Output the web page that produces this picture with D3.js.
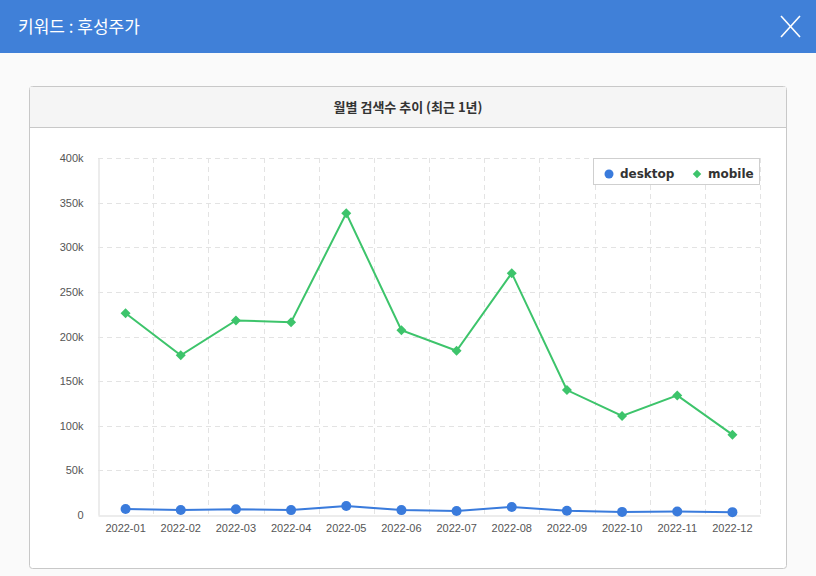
<!DOCTYPE html>
<html><head><meta charset="utf-8">
<script src="https://cdn.jsdelivr.net/npm/d3@7"></script>
<style>
body{margin:0;background:#fafafa;font-family:"Noto Sans CJK KR","Noto Sans",sans-serif;}
</style></head><body>
<svg id="c" width="816" height="576"></svg>
<script>
const months = ["2022-01","2022-02","2022-03","2022-04","2022-05","2022-06","2022-07","2022-08","2022-09","2022-10","2022-11","2022-12"];
const desktop = [6700,5600,6500,5500,10000,5500,4500,9000,4800,3500,4000,3200];
const mobile = [226000,179000,218000,216000,338000,207000,184000,271000,140000,111000,134000,90000];
const yTicks = [0,50000,100000,150000,200000,250000,300000,350000,400000];
const yTickLabels = ["0","50k","100k","150k","200k","250k","300k","350k","400k"];
const headerTitle = "키워드 : 후성주가";
const chartTitle = "월별 검색수 추이 (최근 1년)";

const svg = d3.select("#c");
// header bar
svg.append("rect").attr("x",0).attr("y",0).attr("width",816).attr("height",53).attr("fill","#4080d8");
svg.append("text").attr("x",18).attr("y",33).attr("fill","#fff").attr("font-size",17).text(headerTitle);
svg.append("line").attr("x1",781).attr("y1",16).attr("x2",800).attr("y2",37).attr("stroke","#fff").attr("stroke-width",1.6);
svg.append("line").attr("x1",800).attr("y1",16).attr("x2",781).attr("y2",37).attr("stroke","#fff").attr("stroke-width",1.6);

// panel
svg.append("rect").attr("x",29.5).attr("y",86.5).attr("width",757).attr("height",482).attr("rx",3).attr("fill","#fff").attr("stroke","#c8c8c8");
svg.append("rect").attr("x",30).attr("y",87).attr("width",756).attr("height",40).attr("fill","#f5f5f5");
svg.append("line").attr("x1",30).attr("x2",786).attr("y1",127.5).attr("y2",127.5).attr("stroke","#c8c8c8");
svg.append("text").attr("x",408).attr("y",112).attr("text-anchor","middle").attr("font-size",13).attr("font-weight","bold").attr("fill","#333").text(chartTitle);

const L=98, R=760, T=158, B=515;
const x = d3.scaleBand().domain(months).range([L,R]);
const y = d3.scaleLinear().domain([0,400000]).range([B,T]);
const g = svg.append("g");

// grid
g.selectAll(".hg").data(yTicks.slice(1)).join("line")
 .attr("x1",L).attr("x2",R).attr("y1",d=>Math.round(y(d))+0.5).attr("y2",d=>Math.round(y(d))+0.5)
 .attr("stroke","#e3e3e3").attr("stroke-dasharray","5,4");
g.selectAll(".vg").data(months.slice(1).concat(["end"])).join("line")
 .attr("x1",(d,i)=>Math.round(i<11?x(d):R)+0.5).attr("x2",(d,i)=>Math.round(i<11?x(d):R)+0.5)
 .attr("y1",T).attr("y2",B).attr("stroke","#e3e3e3").attr("stroke-dasharray","5,4");

// axes
const ya = d3.axisLeft(y).tickValues(yTicks).tickFormat((d,i)=>yTickLabels[i]).tickSize(0).tickPadding(15);
const yg = g.append("g").attr("transform",`translate(${L+0.5},0)`).call(ya);
yg.select(".domain").attr("stroke","#e6e6e6").attr("stroke-width",1.5);
yg.selectAll("text").attr("font-size",11).attr("fill","#555").attr("font-family","Liberation Sans, Arial, sans-serif");
const xa = d3.axisBottom(x).tickSize(0).tickPadding(9);
const xg = g.append("g").attr("transform",`translate(0,${B+0.5})`).call(xa);
xg.select(".domain").attr("stroke","#e6e6e6").attr("stroke-width",1.5);
xg.selectAll("text").attr("font-size",11).attr("fill","#555").attr("font-family","Liberation Sans, Arial, sans-serif");

const cx = d=>x(d)+x.bandwidth()/2;
const line = d3.line().x(d=>cx(d.m)).y(d=>y(d.v));
const blue="#3a7bdc", green="#3dc46b";
const dData = months.map((m,i)=>({m,v:desktop[i]}));
const mData = months.map((m,i)=>({m,v:mobile[i]}));
g.append("path").datum(dData).attr("d",line).attr("fill","none").attr("stroke",blue).attr("stroke-width",2);
g.selectAll(".dp").data(dData).join("circle").attr("cx",d=>cx(d.m)).attr("cy",d=>y(d.v)).attr("r",5).attr("fill",blue);
g.append("path").datum(mData).attr("d",line).attr("fill","none").attr("stroke",green).attr("stroke-width",2);
const dia = d3.symbol().type(d3.symbolSquare).size(50);
g.selectAll(".mp").data(mData).join("path").attr("d",dia).attr("transform",d=>`translate(${cx(d.m)},${y(d.v)}) rotate(45)`).attr("fill",green);

// legend
const lg = svg.append("g");
lg.append("rect").attr("x",593.5).attr("y",158.5).attr("width",166).attr("height",26).attr("fill","#fff").attr("stroke","#cfcfcf");
lg.append("circle").attr("cx",609).attr("cy",174).attr("r",4.5).attr("fill",blue);
lg.append("text").attr("x",620).attr("y",178).attr("font-size",12).attr("font-weight","bold").attr("fill","#333").attr("font-family","DejaVu Sans, sans-serif").text("desktop");
lg.append("path").attr("d",d3.symbol().type(d3.symbolSquare).size(36)).attr("transform","translate(697,174) rotate(45)").attr("fill",green);
lg.append("text").attr("x",708).attr("y",178).attr("font-size",12).attr("font-weight","bold").attr("fill","#333").attr("font-family","DejaVu Sans, sans-serif").text("mobile");
</script></body></html>
